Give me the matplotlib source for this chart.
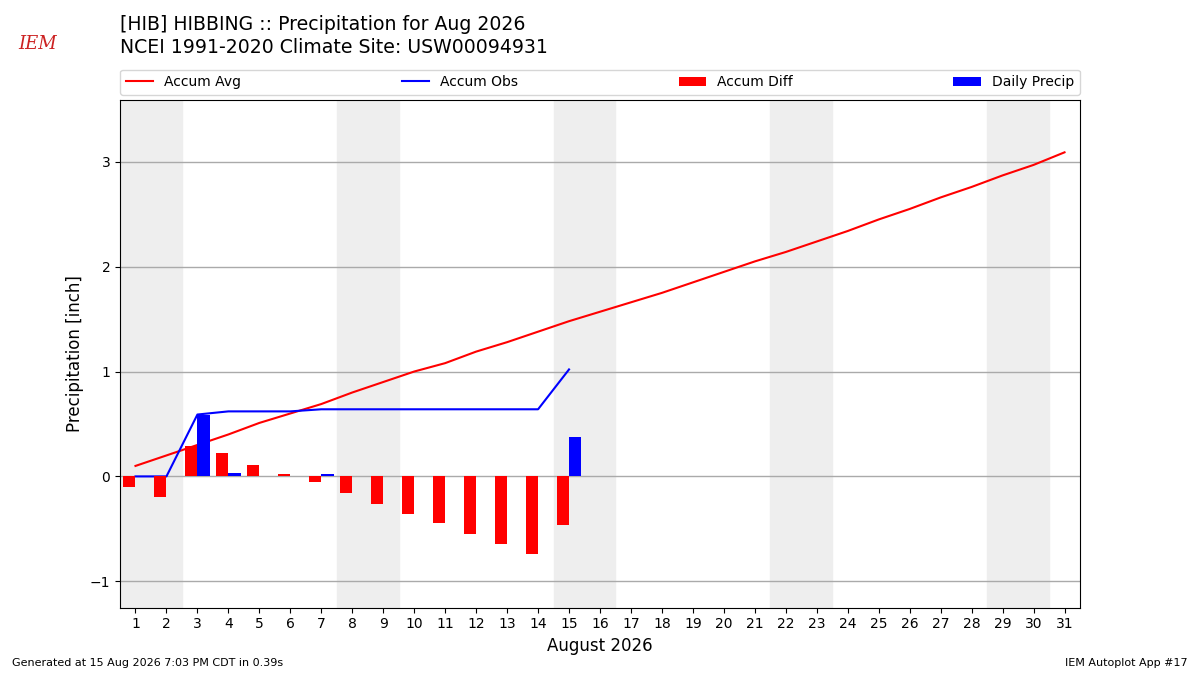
import matplotlib.pyplot as plt
import numpy as np

days = np.arange(1, 32)
accum_avg = [0.10, 0.20, 0.30, 0.40, 0.51, 0.60, 0.69, 0.80, 0.90, 1.00,
             1.08, 1.19, 1.28, 1.38, 1.48, 1.57, 1.66, 1.75, 1.85, 1.95,
             2.05, 2.14, 2.24, 2.34, 2.45, 2.55, 2.66, 2.76, 2.87, 2.97, 3.09]
obs_days = np.arange(1, 16)
daily_precip = [0.0, 0.0, 0.59, 0.03, 0.0, 0.0, 0.02, 0.0, 0.0, 0.0,
                0.0, 0.0, 0.0, 0.0, 0.38]
accum_obs = np.cumsum(daily_precip)
accum_diff = accum_obs - np.array(accum_avg[:15])
weekends = [1, 8, 15, 22, 29]

fig = plt.figure(figsize=(12, 6.75), dpi=100)
ax = fig.add_axes([0.1, 0.1, 0.8, 0.752])

for d in weekends:
    ax.axvspan(d - 0.5, d + 1.5, color="#eeeeee", zorder=0)

ax.grid(axis="y", color="#aaaaaa", lw=1, zorder=1)
ax.set_axisbelow(True)

# bars sit on top of the lines, like the original
ax.plot(days, accum_avg, color="red", lw=1.5, label="Accum Avg", zorder=2)
ax.plot(obs_days, accum_obs, color="blue", lw=1.5, label="Accum Obs", zorder=2)
ax.bar(obs_days, accum_diff, width=-0.4, align="edge", color="red",
       label="Accum Diff", zorder=3)
ax.bar(obs_days, daily_precip, width=0.4, align="edge", color="blue",
       label="Daily Precip", zorder=3)

ax.set_xlim(0.5, 31.5)
ax.set_ylim(-1.25, 3.59)
ax.set_xticks(days)
ax.set_yticks([-1, 0, 1, 2, 3])
ax.tick_params(labelsize=10)
ax.set_xlabel("August 2026", fontsize=12)
ax.set_ylabel("Precipitation [inch]", fontsize=12)

ax.legend(loc="lower left", bbox_to_anchor=(0, 1.01, 1, 0.05), ncol=4,
          mode="expand", borderaxespad=0, fontsize=10)

fig.text(0.1, 0.978, "[HIB] HIBBING :: Precipitation for Aug 2026\n"
         "NCEI 1991-2020 Climate Site: USW00094931",
         fontsize=13.6, va="top", ha="left", linespacing=1.25)

# logo placeholder
fig.text(0.031, 0.935, "IEM", color="#cc2222", fontsize=13, style="italic",
         family="serif", ha="center", va="center")

fig.text(0.01, 0.01, "Generated at 15 Aug 2026 7:03 PM CDT in 0.39s",
         fontsize=8, ha="left", va="bottom")
fig.text(0.99, 0.01, "IEM Autoplot App #17", fontsize=8, ha="right",
         va="bottom")

fig.savefig("out.png", dpi=100)
